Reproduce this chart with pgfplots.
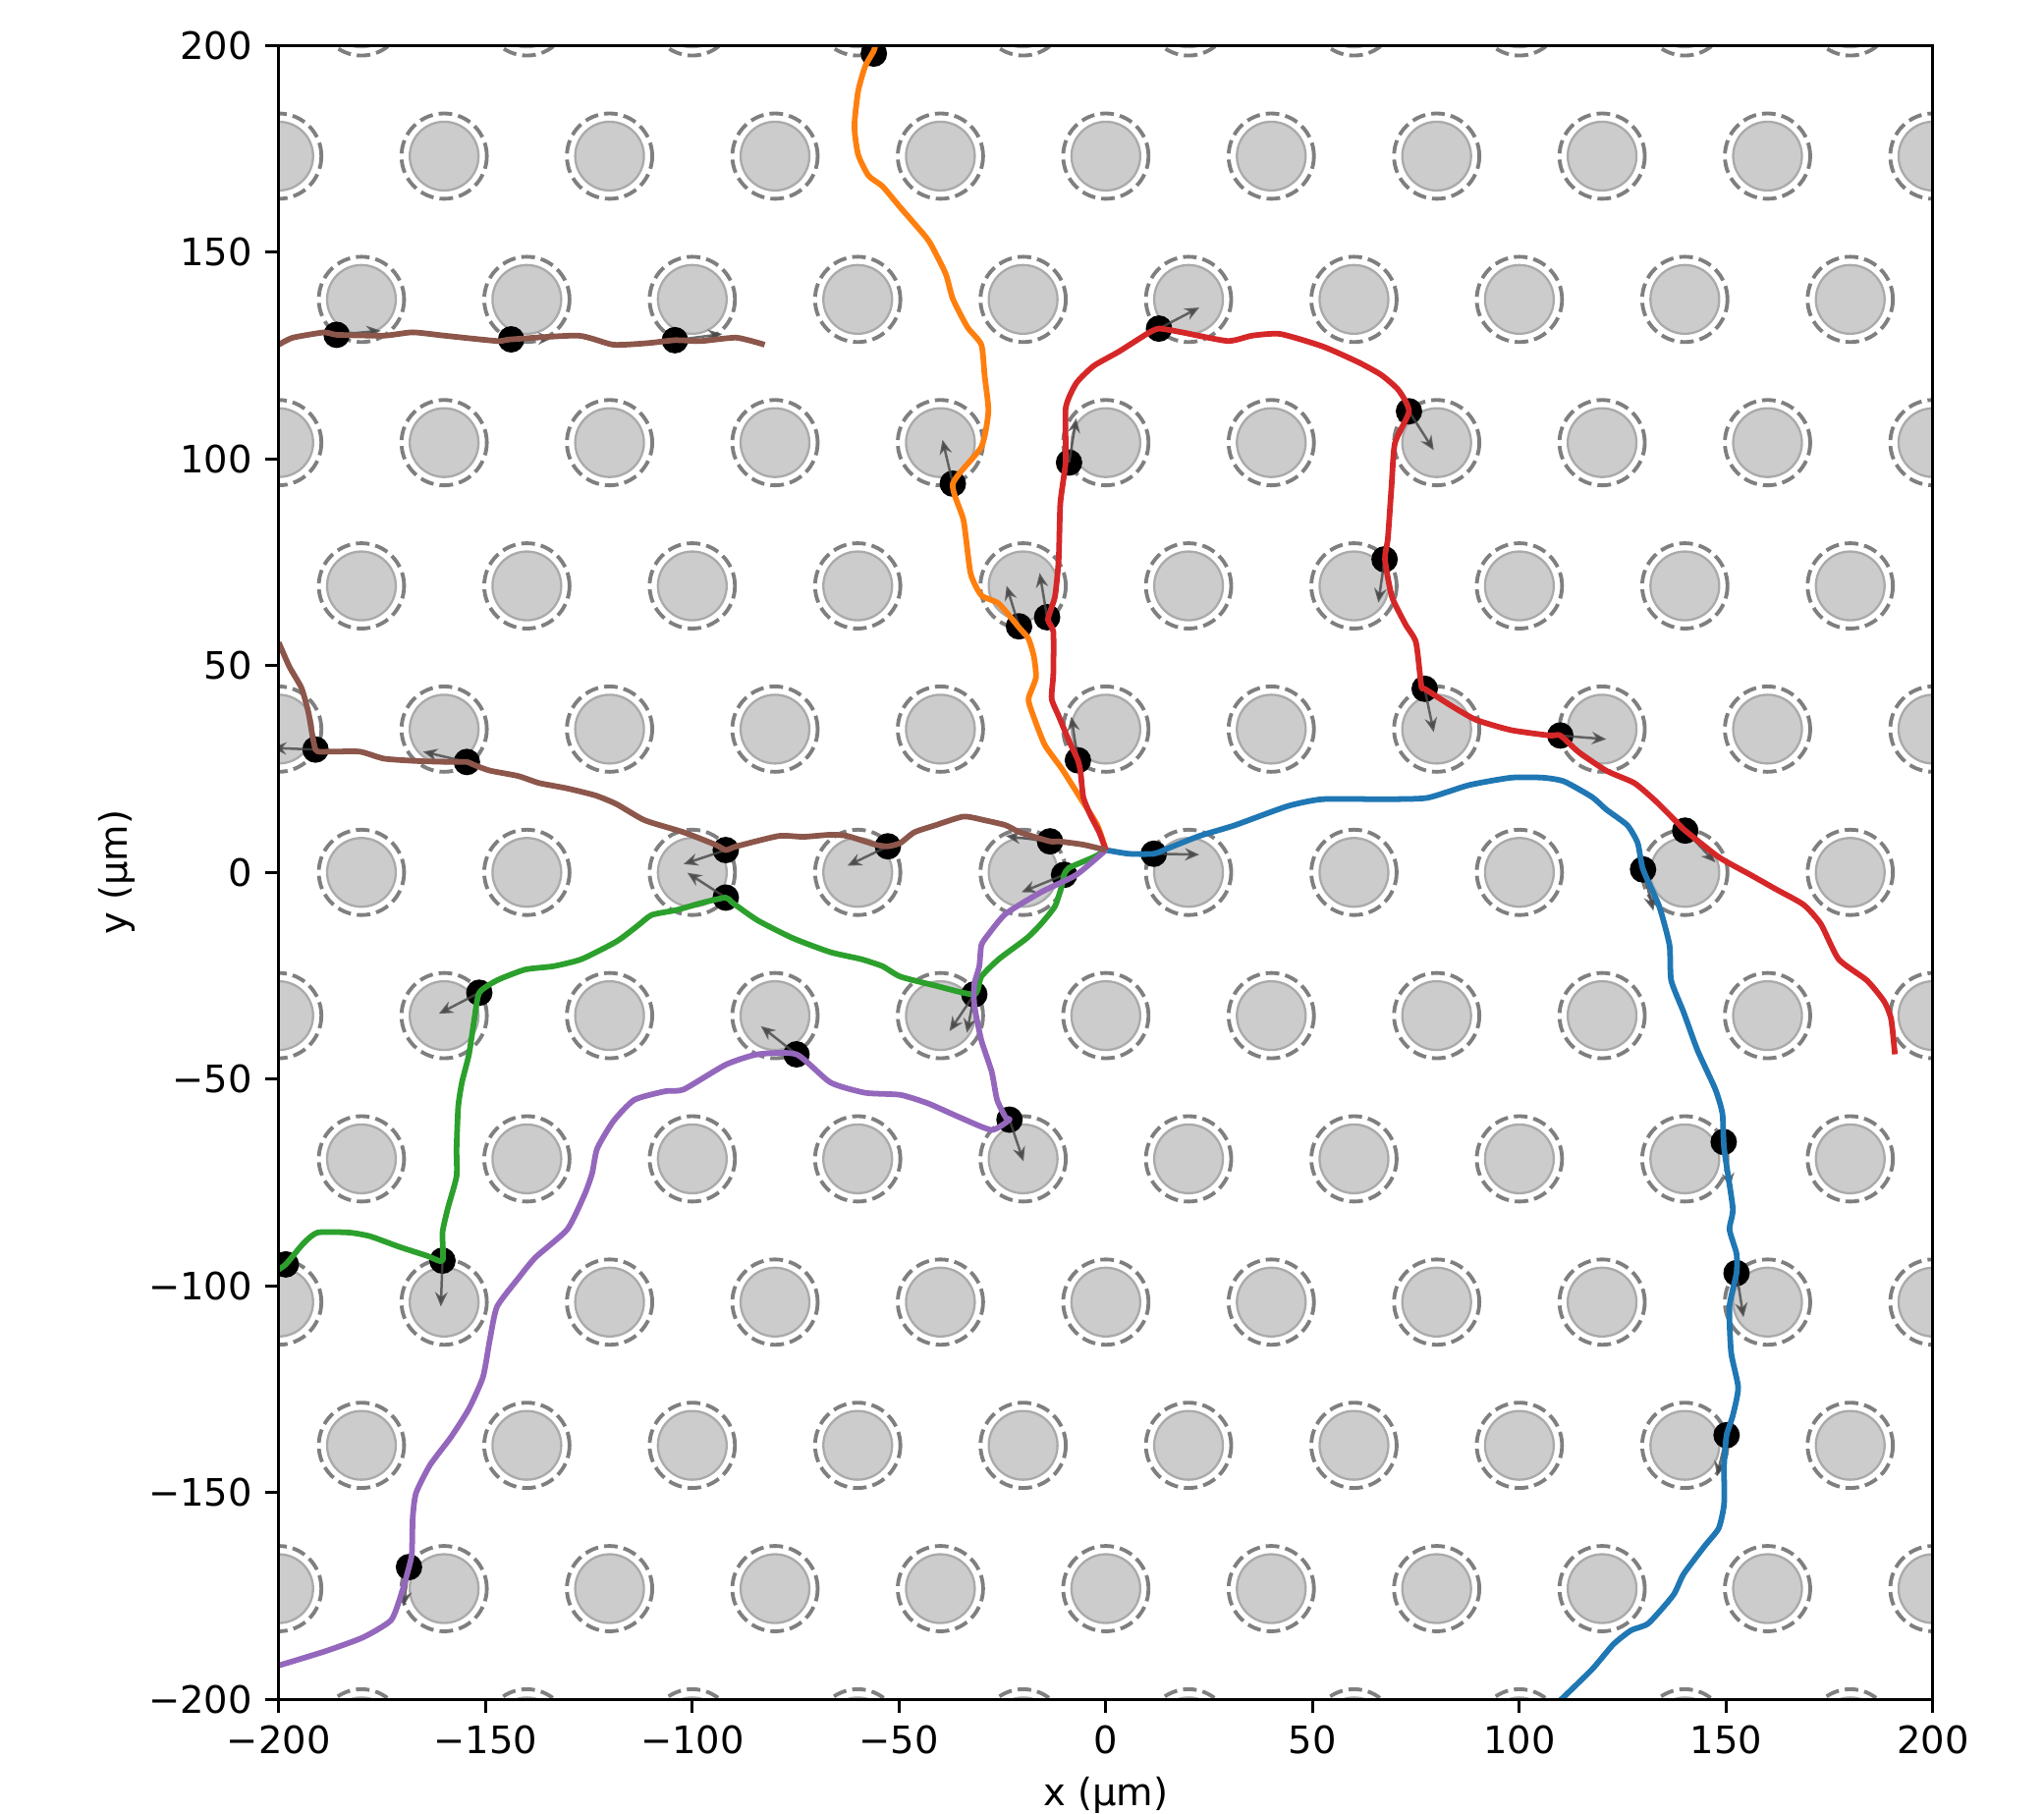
\documentclass[border=0pt]{standalone}
\usepackage{fontspec}
\setmainfont{DejaVu Sans}
\usepackage{pgfplots}
\pgfplotsset{compat=1.18}
\usepackage{pgfplotstable}
\usetikzlibrary{arrows.meta}
\definecolor{tabblue}{HTML}{1F77B4}
\definecolor{taborange}{HTML}{FF7F0E}
\definecolor{tabgreen}{HTML}{2CA02C}
\definecolor{tabred}{HTML}{D62728}
\definecolor{tabpurple}{HTML}{9467BD}
\definecolor{tabbrown}{HTML}{8C564B}
\definecolor{obsfill}{HTML}{CCCCCC}
\definecolor{obsedge}{HTML}{AAAAAA}
\definecolor{dashgray}{HTML}{7F7F7F}
\pgfplotsset{
  arr/.style={-{Stealth[length=3.8pt,width=3.3pt]}, draw=black!72, line width=0.65pt, opacity=0.8},
  traj/.style={line width=1.5pt, line join=round, smooth, tension=0.35},
}

\pgfplotstableread[row sep=\\]{
x y\\
-180 -207.85\\ -140 -207.85\\ -100 -207.85\\ -60 -207.85\\ -20 -207.85\\ 20 -207.85\\ 60 -207.85\\ 100 -207.85\\ 140 -207.85\\ 180 -207.85\\
-180 -138.56\\ -140 -138.56\\ -100 -138.56\\ -60 -138.56\\ -20 -138.56\\ 20 -138.56\\ 60 -138.56\\ 100 -138.56\\ 140 -138.56\\ 180 -138.56\\
-180 -69.28\\ -140 -69.28\\ -100 -69.28\\ -60 -69.28\\ -20 -69.28\\ 20 -69.28\\ 60 -69.28\\ 100 -69.28\\ 140 -69.28\\ 180 -69.28\\
-180 0\\ -140 0\\ -100 0\\ -60 0\\ -20 0\\ 20 0\\ 60 0\\ 100 0\\ 140 0\\ 180 0\\
-180 69.28\\ -140 69.28\\ -100 69.28\\ -60 69.28\\ -20 69.28\\ 20 69.28\\ 60 69.28\\ 100 69.28\\ 140 69.28\\ 180 69.28\\
-180 138.56\\ -140 138.56\\ -100 138.56\\ -60 138.56\\ -20 138.56\\ 20 138.56\\ 60 138.56\\ 100 138.56\\ 140 138.56\\ 180 138.56\\
-180 207.85\\ -140 207.85\\ -100 207.85\\ -60 207.85\\ -20 207.85\\ 20 207.85\\ 60 207.85\\ 100 207.85\\ 140 207.85\\ 180 207.85\\
-200 -173.21\\ -160 -173.21\\ -120 -173.21\\ -80 -173.21\\ -40 -173.21\\ 0 -173.21\\ 40 -173.21\\ 80 -173.21\\ 120 -173.21\\ 160 -173.21\\ 200 -173.21\\
-200 -103.92\\ -160 -103.92\\ -120 -103.92\\ -80 -103.92\\ -40 -103.92\\ 0 -103.92\\ 40 -103.92\\ 80 -103.92\\ 120 -103.92\\ 160 -103.92\\ 200 -103.92\\
-200 -34.64\\ -160 -34.64\\ -120 -34.64\\ -80 -34.64\\ -40 -34.64\\ 0 -34.64\\ 40 -34.64\\ 80 -34.64\\ 120 -34.64\\ 160 -34.64\\ 200 -34.64\\
-200 34.64\\ -160 34.64\\ -120 34.64\\ -80 34.64\\ -40 34.64\\ 0 34.64\\ 40 34.64\\ 80 34.64\\ 120 34.64\\ 160 34.64\\ 200 34.64\\
-200 103.92\\ -160 103.92\\ -120 103.92\\ -80 103.92\\ -40 103.92\\ 0 103.92\\ 40 103.92\\ 80 103.92\\ 120 103.92\\ 160 103.92\\ 200 103.92\\
-200 173.21\\ -160 173.21\\ -120 173.21\\ -80 173.21\\ -40 173.21\\ 0 173.21\\ 40 173.21\\ 80 173.21\\ 120 173.21\\ 160 173.21\\ 200 173.21\\
}\lattice

\pgfplotstableread[row sep=\\]{
x y\\
11.6 4.5\\ 129.9 0.7\\ 149.4 -65.2\\ 152.5 -96.9\\ 150.1 -136.1\\
-56.1 198\\ -37 94\\ -21 59.5\\
-14.2 61.7\\ -6.75 27.1\\ -8.9 99.1\\ 12.85 131.5\\ 73.3 111.5\\ 67.4 75.7\\ 77.1 44.4\\ 109.9 33.1\\ 140.1 10.1\\
-10.1 -0.6\\ -31.8 -29.5\\ -91.9 -6.1\\ -151.5 -29.1\\ -160.4 -93.9\\ -198.3 -94.8\\
-23.3 -59.8\\ -74.8 -44\\ -168.5 -168\\
-13.5 7.5\\ -52.7 6.3\\ -91.9 5.4\\ -154.5 26.7\\ -191.1 29.7\\ -186 130\\ -143.8 128.9\\ -104.2 128.7\\
}\events

\begin{document}
\begin{tikzpicture}
% obstacle lattice, in a hidden axis of the same scale, clipped to the main axis box
\begin{scope}
\clip (0pt,0pt) rectangle (438pt,438pt);
\begin{axis}[
  at={(-21.9pt,-21.9pt)}, anchor=south west,
  scale only axis, width=481.8pt, height=481.8pt,
  xmin=-220, xmax=220, ymin=-220, ymax=220,
  hide axis, clip=false,
]
\addplot[only marks, mark=o, mark size=11.3pt, mark options={draw=dashgray, line width=1pt, dash pattern=on 3.6pt off 1.6pt}] table {\lattice};
\addplot[only marks, mark=*, mark size=9.1pt, mark options={fill=obsfill, draw=obsedge, line width=0.6pt}] table {\lattice};
\end{axis}
\end{scope}
\begin{axis}[
  at={(0,0)}, anchor=south west,
  scale only axis, width=438pt, height=438pt,
  xmin=-200, xmax=200, ymin=-200, ymax=200,
  axis on top,
  clip marker paths=true,
  axis line style={line width=0.8pt, black},
  every tick/.style={line width=0.8pt, black},
  major tick length=3.5pt,
  tick align=outside,
  tick pos=left,
  xtick={-200,-150,-100,-50,0,50,100,150,200},
  ytick={-200,-150,-100,-50,0,50,100,150,200},
  xticklabels={−200,−150,−100,−50,0,50,100,150,200},
  yticklabels={−200,−150,−100,−50,0,50,100,150,200},
  /pgf/number format/assume math mode=true,
  xlabel={x (μm)}, ylabel={y (μm)},
  xlabel style={at={(axis description cs:0.5,-0.0642)}, anchor=base},
  ylabel style={at={(axis description cs:-0.0977,0.5)}, anchor=center},
]
% events
\addplot[only marks, mark=*, mark size=3.3pt, mark options={fill=black, draw=black}] table {\events};
% direction arrows
\addplot[arr] coordinates {(11.6,4.5)(22.6,4.3)};
\addplot[arr] coordinates {(129.9,0.7)(132.4,-9.3)};
\addplot[arr] coordinates {(149.4,-65.2)(150.9,-76.2)};
\addplot[arr] coordinates {(152.5,-96.9)(154.2,-107.6)};
\addplot[arr] coordinates {(150.1,-136.1)(147.8,-145.9)};
\addplot[arr] coordinates {(-37,94)(-39.5,104.6)};
\addplot[arr] coordinates {(-21,59.5)(-24,69.3)};
\addplot[arr] coordinates {(-14.2,61.7)(-16,72.4)};
\addplot[arr] coordinates {(-6.75,27.1)(-8.35,37.7)};
\addplot[arr] coordinates {(-8.9,99.1)(-7.15,109.8)};
\addplot[arr] coordinates {(12.85,131.5)(22.6,136.6)};
\addplot[arr] coordinates {(73.3,111.5)(79.3,102.1)};
\addplot[arr] coordinates {(67.4,75.7)(65.9,65.2)};
\addplot[arr] coordinates {(77.1,44.4)(79.3,33.9)};
\addplot[arr] coordinates {(109.9,33.1)(121,32.2)};
\addplot[arr] coordinates {(140.1,10.1)(147.4,2.4)};
\addplot[arr] coordinates {(-10.1,-0.6)(-20.4,-4.8)};
\addplot[arr] coordinates {(-31.8,-29.5)(-37.8,-38.4)};
\addplot[arr] coordinates {(-31.8,-29.5)(-33.6,-38.8)};
\addplot[arr] coordinates {(-91.9,-6.1)(-101.2,-0.1)};
\addplot[arr] coordinates {(-151.5,-29.1)(-161.3,-34.2)};
\addplot[arr] coordinates {(-160.4,-93.9)(-160.8,-105)};
\addplot[arr] coordinates {(-23.3,-59.8)(-19.9,-69.9)};
\addplot[arr] coordinates {(-74.8,-44)(-83.4,-37.2)};
\addplot[arr] coordinates {(-168.5,-168)(-169.8,-177.4)};
\addplot[arr] coordinates {(-13.5,7.5)(-24.2,8.8)};
\addplot[arr] coordinates {(-52.7,6.3)(-62.5,1.6)};
\addplot[arr] coordinates {(-91.9,5.4)(-102.1,2)};
\addplot[arr] coordinates {(-154.5,26.7)(-165.1,29.2)};
\addplot[arr] coordinates {(-191.1,29.7)(-201.6,30.1)};
\addplot[arr] coordinates {(-186,130)(-175.3,131)};
\addplot[arr] coordinates {(-143.8,128.9)(-133.8,129.2)};
\addplot[arr] coordinates {(-104.2,128.7)(-92.7,130.2)};
% trajectories
\addplot[traj, tabblue] coordinates {
(0,5.4)(5.6,4.5)(11.6,4.5)(15,5.8)(22.6,8.8)(31.2,11.4)(43.9,16.0)(52.4,17.7)(66.7,17.7)(77.6,18.0)(87.8,21.1)(98,22.9)(105.7,22.9)(110.8,22.0)(117.6,18.2)(121,15.2)(126.1,11.4)(128.6,7.1)(129.9,0.7)(133.8,-8.2)(136.3,-17.6)(136.7,-26.1)(139.7,-33.8)(143.1,-43.1)(147.4,-52.5)(149.1,-58.4)(149.5,-66.8)(151.6,-81.2)(150.8,-86.3)(152.5,-92.2)(152.5,-96.9)(150.8,-105)(151.2,-116.1)(152.9,-124.6)(151.6,-131.4)(150.1,-136.1)(149.5,-143.3)(149.5,-152.7)(148.2,-158.6)(144.8,-162.9)(139.7,-169.7)(137.2,-174.8)(131.2,-181.6)(127,-183.3)(122.7,-186.7)(117.6,-192.7)(109.9,-200.2)
};
\addplot[traj, taborange] coordinates {
(0,5.4)(-2.05,11.4)(-6.3,18.2)(-10.6,25)(-14.8,30.9)(-17.8,38.6)(-18.7,42)(-16.9,47.1)(-17.4,52.2)(-18.7,56.5)(-20.8,59)(-25.9,65)(-30.1,67)(-32.7,72.3)(-34.4,85.1)(-37,94)(-30.1,102.9)(-28.4,111.5)(-29.3,120)(-30.1,127.6)(-33.5,131.9)(-37,138.7)(-38.7,144.7)(-42.1,151.5)(-43.8,154)(-49.7,160.8)(-54,165.9)(-57.4,168.5)(-59.9,173.6)(-60.8,180.4)(-59.9,188.9)(-58.2,194.9)(-56.1,198.7)(-55.5,201)
};
\addplot[traj, tabred] coordinates {
(0,5.4)(-1.6,9.7)(-3.75,13.9)(-5.45,18.2)(-6.1,24.1)(-6.75,27.1)(-8.9,31.8)(-11.4,37.8)(-13.1,42)(-12.7,48)(-12.7,58.2)(-14,61.2)(-12.3,66.7)(-11.4,75.7)(-11,89.3)(-9.7,99.5)(-9.7,112.3)(-7.15,118.3)(-2.9,122.5)(3.1,125.9)(9.9,130.2)(12.85,131.5)(18.4,130.6)(29.5,128.5)(35.4,129.8)(42.2,130.2)(52.4,127.2)(61,123.4)(66.6,120.3)(70.8,116.6)(73.3,111.5)(69.9,103.8)(69.1,93.6)(68.2,80.8)(67.5,75.7)(69.2,66.6)(72.5,59.9)(75,55.6)(76.3,45)(77.1,44.4)(83.5,40.3)(89.5,36.9)(98,34.4)(107.4,33.1)(109.9,33.1)(114.2,29.2)(121,24.6)(127.8,21.6)(132.9,17.3)(138,12.2)(140.1,10.1)(148.2,3.7)(155.9,-0.6)(161.9,-4)(168.7,-7.8)(172.9,-12.5)(177.2,-21)(184,-26.1)(188.2,-31.2)(189.9,-35.5)(190.8,-44)
};
\addplot[traj, tabgreen] coordinates {
(0,5.4)(-2.9,3.7)(-8.9,1.1)(-10.1,-0.6)(-10.6,-3.1)(-12.3,-8.2)(-15.7,-12.5)(-19.1,-15.9)(-25.9,-21)(-30.1,-25.2)(-31.8,-29.5)(-41.2,-27.4)(-49.7,-25.2)(-54,-22.7)(-59.1,-21)(-66.6,-19.3)(-75.7,-15.9)(-84.2,-11.6)(-90.2,-7.4)(-91.9,-6.1)(-97.8,-7.4)(-103.8,-9.1)(-109.8,-10.3)(-113.2,-12.9)(-118.3,-16.7)(-126.8,-21)(-133.6,-22.7)(-140.4,-23.5)(-147.2,-26.1)(-151.5,-29.1)(-152.7,-35.5)(-154,-44)(-155.7,-50.8)(-156.6,-56.7)(-157,-66.8)(-157,-73.5)(-159.1,-81.2)(-160.4,-87.1)(-160.4,-93.9)(-164.2,-92.7)(-171,-90.5)(-177.9,-88)(-183,-87.1)(-190.6,-87.1)(-194,-89.7)(-198.3,-94.8)(-200.5,-96.3)
};
\addplot[traj, tabpurple] coordinates {
(0,5.4)(-7.15,-0.6)(-15.7,-4.8)(-24.2,-10)(-28.4,-15)(-30.1,-17.6)(-30.6,-22.7)(-31.8,-27)(-31.8,-32.1)(-30.1,-40.6)(-27.6,-48.2)(-26.3,-55)(-24.2,-59.3)(-23.3,-59.8)(-27.6,-62.3)(-35.2,-59.3)(-42.9,-55.9)(-49.7,-53.8)(-58.2,-53.3)(-66.6,-50.8)(-74.8,-44)(-84.2,-44)(-91.9,-46.5)(-102.1,-52.5)(-106.4,-52.9)(-114,-55)(-119.1,-60.2)(-123,-66.8)(-124.2,-72.7)(-126,-77.8)(-130.2,-86.3)(-137.9,-93.1)(-142.1,-98.2)(-147.2,-105)(-148.9,-112.7)(-150.6,-122)(-154,-129.7)(-158.3,-136.5)(-163.4,-143.3)(-166.8,-150.1)(-167.6,-156.1)(-167.8,-164.6)(-168.5,-168)(-170.2,-174)(-172.8,-180.8)(-179.6,-185)(-188.9,-188.4)(-200,-191.8)
};
\addplot[traj, tabbrown] coordinates {
(0,5.4)(-5.45,6.7)(-11.4,7.5)(-13.5,7.5)(-20.8,9.7)(-24.2,11.4)(-29.3,12.6)(-34.4,13.5)(-41.2,11.4)(-46.3,9.7)(-49.7,7.1)(-52.7,6.3)(-55.7,6.7)(-62.5,8.8)(-66.6,9.1)(-73.1,8.6)(-79.1,8.8)(-89.3,6.3)(-91.9,5.4)(-94.4,6.7)(-102.1,9.7)(-111.5,12.6)(-118.3,16.5)(-123.4,18.6)(-130.2,20.3)(-137,21.6)(-142.1,23.3)(-148.9,24.6)(-152.3,25.8)(-154.5,26.7)(-157.4,26.7)(-165.9,26.9)(-174.5,27.5)(-180.4,29.2)(-188.1,29.2)(-191.1,29.7)(-192.8,38.6)(-194.5,44.6)(-197.4,49.7)(-200,55.6)
};
\addplot[traj, tabbrown] coordinates {
(-200,127.6)(-196.6,129.3)(-188.9,130.6)(-186,130)(-174.5,129.8)(-167.6,130.6)(-160,129.8)(-147.2,128.5)(-143.8,128.9)(-127.6,129.8)(-119.1,127.6)(-110.6,128)(-104.2,128.7)(-97.8,128.5)(-89.3,129.3)(-82.5,127.6)
};
\end{axis}
\pgfresetboundingbox
\path[use as bounding box] (-73.8pt,-30.2pt) rectangle (467.4pt,450pt);
\end{tikzpicture}
\end{document}
